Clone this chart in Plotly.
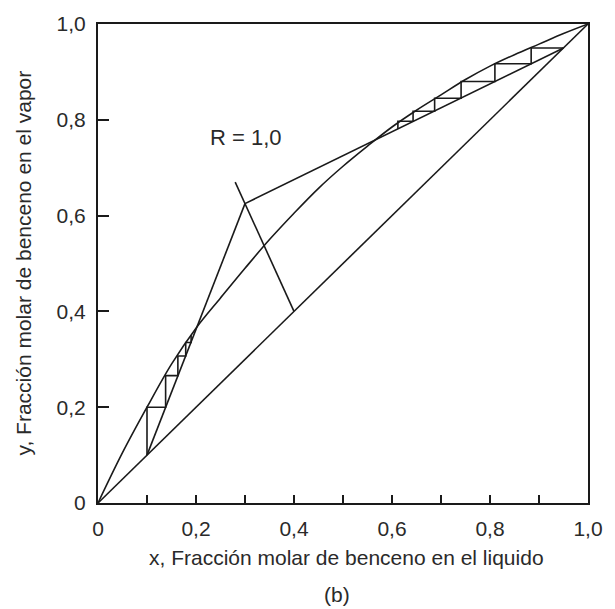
import plotly.graph_objects as go

# Equilibrium curve
eq_x = [0, 0.05, 0.1, 0.15, 0.2, 0.25, 0.3, 0.35, 0.4, 0.45, 0.5, 0.55, 0.6, 0.65, 0.7, 0.75, 0.8, 0.85, 0.9, 0.95, 1.0]
eq_y = [0, 0.105, 0.2, 0.29, 0.365, 0.428, 0.49, 0.55, 0.605, 0.657, 0.703, 0.745, 0.785, 0.82, 0.852, 0.884, 0.912, 0.936, 0.958, 0.98, 1.0]

# Diagonal y = x
diag_x = [0, 1]
diag_y = [0, 1]

# Rectifying operating line (R = 1,0)
rect_x = [0.3, 0.95]
rect_y = [0.625, 0.95]

# Stripping operating line
strip_x = [0.1, 0.3]
strip_y = [0.1, 0.625]

# q-line
q_x = [0.4, 0.28]
q_y = [0.4, 0.67]

# Stages, rectifying section
rs_x = [0.95, 0.884, 0.884, 0.81, 0.81, 0.741, 0.741, 0.687, 0.687, 0.643, 0.643, 0.612, 0.612]
rs_y = [0.95, 0.95, 0.917, 0.917, 0.88, 0.88, 0.845, 0.845, 0.818, 0.818, 0.797, 0.797, 0.781]

# Stages, stripping section
ss_x = [0.1, 0.1, 0.138, 0.138, 0.163, 0.163, 0.179, 0.179, 0.19, 0.19]
ss_y = [0.1, 0.2, 0.2, 0.266, 0.266, 0.307, 0.307, 0.335, 0.335, 0.35]

tick_vals = [0, 0.2, 0.4, 0.6, 0.8, 1.0]
tick_text = ["0", "0,2", "0,4", "0,6", "0,8", "1,0"]

LC = "#1a1a1a"
TC = "#2a2a2a"
FONT = "Liberation Sans, Arial, sans-serif"

fig = go.Figure()

def add_line(x, y, shape="linear", w=1.6):
    fig.add_trace(go.Scatter(x=x, y=y, mode="lines", line=dict(color=LC, width=w, shape=shape),
                             showlegend=False, hoverinfo="skip", cliponaxis=False))

add_line(diag_x, diag_y)
add_line(eq_x, eq_y, shape="spline")
add_line(rect_x, rect_y)
add_line(strip_x, strip_y)
add_line(q_x, q_y)
add_line(rs_x, rs_y)
add_line(ss_x, ss_y)

fig.update_layout(
    width=615, height=609,
    margin=dict(l=98, r=18, t=14, b=106),
    paper_bgcolor="white", plot_bgcolor="white",
    font=dict(family=FONT, size=21, color=TC),
    showlegend=False,
    xaxis=dict(range=[0, 1], tickvals=tick_vals, ticktext=tick_text, ticks="inside", ticklen=8,
               tickwidth=1.5, tickcolor=LC, showline=True, linecolor=LC, linewidth=2, mirror=True,
               showgrid=False, zeroline=False, ticklabelstandoff=6,
               minor=dict(dtick=0.1, tick0=0, ticks="inside", ticklen=8, tickwidth=1.5, tickcolor=LC)),
    yaxis=dict(range=[0, 1], tickvals=tick_vals, ticktext=tick_text, ticks="inside", ticklen=11,
               tickwidth=1.5, tickcolor=LC, showline=True, linecolor=LC, linewidth=2, mirror=True,
               showgrid=False, zeroline=False, ticklabelstandoff=6),
    annotations=[
        dict(text="R = 1,0", x=0.303, y=0.763, xref="x", yref="y", showarrow=False,
             font=dict(size=22, color=TC)),
        dict(text="x, Fracción molar de benceno en el liquido", x=0.508, y=-0.114, xref="paper",
             yref="paper", showarrow=False, xanchor="center", yanchor="middle"),
        dict(text="(b)", x=0.488, y=-0.19, xref="paper", yref="paper", showarrow=False,
             xanchor="center", yanchor="middle"),
        dict(text="y, Fracción molar de benceno en el vapor", x=-0.152, y=0.501, xref="paper",
             yref="paper", showarrow=False, textangle=-90, xanchor="center", yanchor="middle"),
    ],
)

fig.write_html("out.html")
